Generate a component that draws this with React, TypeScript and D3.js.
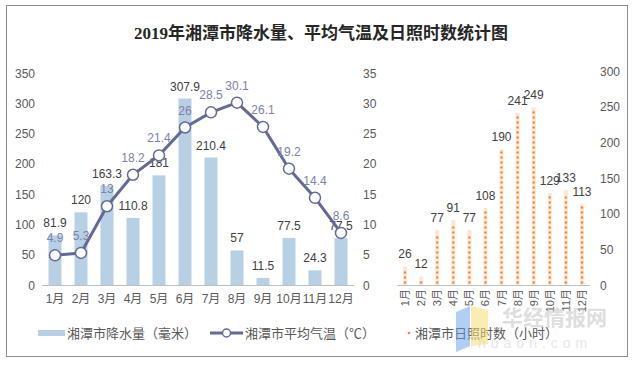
import React from "react";
import * as d3 from "d3";

const months = ["1月","2月","3月","4月","5月","6月","7月","8月","9月","10月","11月","12月"];
const precipitation = [81.9,120,163.3,110.8,181,307.9,210.4,57,11.5,77.5,24.3,77.5];
const temperature = [4.9,5.3,13,18.2,21.4,26,28.5,30.1,26.1,19.2,14.4,8.6];
const sunshine = [26,12,77,91,77,108,190,241,249,129,133,113];
const precipTicks = [0,50,100,150,200,250,300,350];
const tempTicks = [0,5,10,15,20,25,30,35];
const sunTicks = [0,50,100,150,200,250,300];
const title = "2019年湘潭市降水量、平均气温及日照时数统计图";
const legendLabels = ["湘潭市降水量（毫米）","湘潭市平均气温（℃）","湘潭市日照时数（小时）"];

const W = 634, H = 366;
const FONT = "'Liberation Sans', Arial, 'Noto Sans CJK SC', sans-serif";
const BAR = "#b8d0e3";
const LINE = "#636a95";
const TLABEL = "#7c81a8";
const TXT = "#595959";
const ORANGE = "#ef8a3f";

export default function App() {
  const xL = d3.scaleBand<string>().domain(months).range([42, 354]).paddingInner(0.5).paddingOuter(0.25);
  const yP = d3.scaleLinear().domain([0, 350]).range([285, 73]);
  const yT = d3.scaleLinear().domain([0, 35]).range([285, 73]);
  const xR = d3.scaleBand<string>().domain(months).range([397, 590]).paddingInner(0.75).paddingOuter(0.375);
  const yS = d3.scaleLinear().domain([0, 300]).range([285, 71]);

  const cx = (m: string) => (xL(m) as number) + xL.bandwidth() / 2;
  const line = d3.line<number>().x((_, i) => cx(months[i])).y((d) => yT(d));

  return (
    <div style={{ position: "absolute", left: 0, top: 0 }}>
      <svg width={W} height={H} style={{ display: "block", fontFamily: FONT }}>
        <rect x={0} y={0} width={W} height={H} fill="#fff" />
        <rect x={6.5} y={5.5} width={621} height={351} fill="none" stroke="#8c8c8c" />
        <text x={321} y={39} textAnchor="middle" fontSize={17} fontWeight="bold" fill="#262626"
          style={{ fontFamily: "'Liberation Serif', 'Noto Sans CJK SC', serif" }}>{title}</text>

        {/* left axis */}
        {precipTicks.map((t) => (
          <text key={"p" + t} x={35} y={yP(t) + 4.5} textAnchor="end" fontSize={12} fill={TXT}>{t}</text>
        ))}
        {tempTicks.map((t) => (
          <text key={"t" + t} x={363} y={yT(t) + 4.5} textAnchor="start" fontSize={12} fill={TXT}>{t}</text>
        ))}
        <line x1={42} x2={354} y1={285.5} y2={285.5} stroke="#bfbfbf" />
        {months.map((m) => (
          <text key={"ml" + m} x={cx(m)} y={303} textAnchor="middle" fontSize={12} fill={TXT}>{m}</text>
        ))}
        {precipitation.map((v, i) => (
          <rect key={"b" + i} x={xL(months[i])} y={yP(v)} width={xL.bandwidth()} height={285 - yP(v)} fill={BAR} />
        ))}
        {precipitation.map((v, i) => (
          <text key={"bl" + i} x={cx(months[i])} y={yP(v) - 8} textAnchor="middle" fontSize={12} fill="#404040">{v}</text>
        ))}
        <path d={line(temperature) || ""} fill="none" stroke={LINE} strokeWidth={3} strokeLinejoin="round" />
        {temperature.map((v, i) => (
          <circle key={"c" + i} cx={cx(months[i])} cy={yT(v)} r={5.5} fill="#fff" stroke={LINE} strokeWidth={1.5} />
        ))}
        {temperature.map((v, i) => (
          <text key={"tl" + i} x={cx(months[i])} y={yT(v) - 13} textAnchor="middle" fontSize={12} fill={TLABEL}>{v}</text>
        ))}

        {/* right chart */}
        {sunTicks.map((t) => (
          <text key={"s" + t} x={600} y={yS(t) + 4.5} textAnchor="start" fontSize={12} fill={TXT}>{t}</text>
        ))}
        <line x1={397} x2={590} y1={285.5} y2={285.5} stroke="#bfbfbf" />
        {sunshine.map((v, i) => {
          const x0 = xR(months[i]) as number;
          const bw = xR.bandwidth();
          const top = yS(v);
          const n = Math.floor((285 - top) / 5);
          const dots = d3.range(n).map((k) => 285 - 2.5 - k * 5);
          return (
            <g key={"sb" + i}>
              <rect x={x0} y={top} width={bw} height={285 - top} fill="#fde6d3" />
              {dots.map((dy, k) => (
                <circle key={k} cx={x0 + bw / 2} cy={dy} r={1.2} fill={ORANGE} />
              ))}
            </g>
          );
        })}
        {sunshine.map((v, i) => (
          <text key={"sl" + i} x={(xR(months[i]) as number) + xR.bandwidth() / 2} y={yS(v) - 8}
            textAnchor="middle" fontSize={12} fill="#404040">{v}</text>
        ))}
        {months.map((m) => {
          const x = (xR(m) as number) + xR.bandwidth() / 2;
          return (
            <text key={"rl" + m} transform={`translate(${x + 4},289) rotate(-90)`} textAnchor="end"
              fontSize={11} fill={TXT}>{m}</text>
          );
        })}

        {/* watermark */}
        <g opacity={0.55}>
          <text x={502} y={325} fontSize={21} fontWeight="bold" fill="#c4c4c4"
            style={{ fontFamily: "'Noto Sans CJK SC', sans-serif" }}>华经情报网</text>
          <text x={478} y={348} fontSize={14} fill="#d4d4d4" letterSpacing={5}>huaon.com</text>
        </g>

        {/* legend */}
        <rect x={38} y={330} width={27} height={6} fill={BAR} />
        <text x={67} y={338} fontSize={13} fill={TXT}>{legendLabels[0]}</text>
        <line x1={210} x2={243} y1={333} y2={333} stroke={LINE} strokeWidth={3} />
        <circle cx={226.5} cy={333} r={4} fill="#fff" stroke={LINE} strokeWidth={1.5} />
        <text x={245} y={338} fontSize={13} fill={TXT}>{legendLabels[1]}</text>
        <circle cx={409} cy={333} r={1.3} fill={ORANGE} />
        <text x={415} y={338} fontSize={13} fill={TXT}>{legendLabels[2]}</text>

        <g opacity={0.5}>
          <polygon points="456,312 470,306 470,346 456,352" fill="#6a9eea" />
          <polygon points="471,306 488,310 488,344 471,346" fill="#f6dc6a" />
        </g>
      </svg>
    </div>
  );
}
